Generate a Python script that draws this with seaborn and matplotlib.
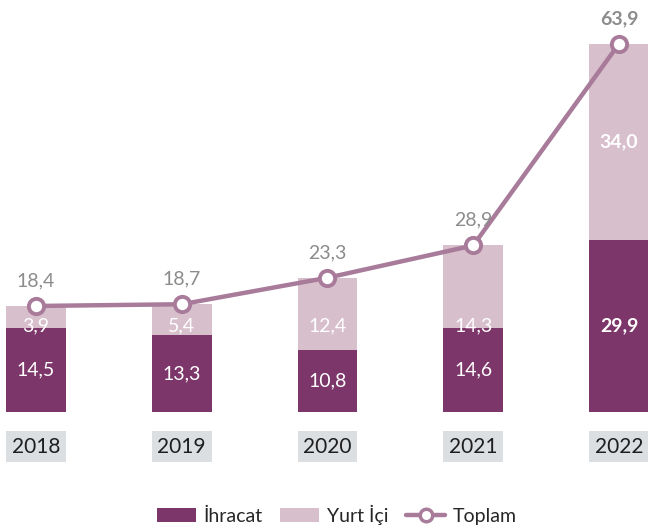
import pandas as pd
import seaborn as sns
import matplotlib.pyplot as plt
from matplotlib import font_manager
from matplotlib.patches import Patch, Rectangle
from matplotlib.lines import Line2D

years = ['2018', '2019', '2020', '2021', '2022']
ihracat = [14.5, 13.3, 10.8, 14.6, 29.9]
yurt_ici = [3.9, 5.4, 12.4, 14.3, 34.0]
toplam = [18.4, 18.7, 23.3, 28.9, 63.9]

DARK = '#7D3669'
LIGHT = '#D8BFCC'
LINE = '#A87B9A'
GREY = '#8C8C8C'
BOX = '#DCDFE2'


def fmt(v):
    """Turkish decimal comma."""
    return f'{v:.1f}'.replace('.', ',')


sns.set_theme(style='white')
installed = {f.name for f in font_manager.fontManager.ttflist}
family = 'Liberation Sans Narrow' if 'Liberation Sans Narrow' in installed else 'Lato'
plt.rcParams['font.family'] = [family, 'DejaVu Sans']

df = pd.DataFrame({'year': years, 'ihracat': ihracat, 'yurt_ici': yurt_ici, 'toplam': toplam})
df['stack'] = df['ihracat'] + df['yurt_ici']

fig = plt.figure(figsize=(6.48, 5.29), dpi=100)
ax = fig.add_axes([0, 117 / 529, 1, 412 / 529])

# stacked bars: full height in light, export part overlaid in dark
sns.barplot(data=df, x='year', y='stack', color=LIGHT, width=0.41, ax=ax, saturation=1,
            linewidth=0, edgecolor='none', zorder=1)
sns.barplot(data=df, x='year', y='ihracat', color=DARK, width=0.41, ax=ax, saturation=1,
            linewidth=0, edgecolor='none', zorder=2)

# total line
sns.lineplot(x=list(range(len(years))), y=df['toplam'], color=LINE, linewidth=3.2, marker='o',
             markersize=11, markerfacecolor='white', markeredgecolor=LINE, markeredgewidth=2.8,
             ax=ax, zorder=5)

last = len(years) - 1
for i, row in df.iterrows():
    weight = 'bold' if i == last else 'normal'
    ax.text(i, row['ihracat'] / 2, fmt(row['ihracat']), ha='center', va='center',
            color='white', fontsize=14, fontweight=weight, zorder=6)
    y_light = row['ihracat'] + row['yurt_ici'] / 2 if i == last else min(row['ihracat'] + row['yurt_ici'] / 2, 15)
    ax.text(i, y_light, fmt(row['yurt_ici']), ha='center', va='center',
            color='white', fontsize=14, fontweight=weight, zorder=6)
    ax.text(i, row['toplam'] + 4.4, fmt(row['toplam']), ha='center', va='center',
            color=GREY, fontsize=14, fontweight=weight, zorder=6)
    # year box under each bar
    ax.add_patch(Rectangle((i - 0.205, -8.7), 0.41, 5.4, facecolor=BOX, edgecolor='none', clip_on=False))
    ax.text(i, -6.0, years[i], ha='center', va='center', color='#1E1E1E', fontsize=15, clip_on=False)

ax.set_xlim(-0.247, 4.199)
ax.set_ylim(0, 71.5)
ax.set_xlabel('')
ax.set_ylabel('')
ax.set_xticks([])
ax.set_yticks([])
sns.despine(ax=ax, left=True, bottom=True)

handles = [
    Patch(facecolor=DARK, edgecolor='none'),
    Patch(facecolor=LIGHT, edgecolor='none'),
    Line2D([], [], color=LINE, linewidth=3.2, marker='o', markersize=9,
           markerfacecolor='white', markeredgecolor=LINE, markeredgewidth=2.5),
]
fig.legend(handles, ['İhracat', 'Yurt İçi', 'Toplam'], loc='center', bbox_to_anchor=(0.52, 0.027),
           ncol=3, frameon=False, fontsize=14, handlelength=2.0, handleheight=0.7,
           columnspacing=0.9, handletextpad=0.4)

fig.savefig('out.png', dpi=100, facecolor='white')
